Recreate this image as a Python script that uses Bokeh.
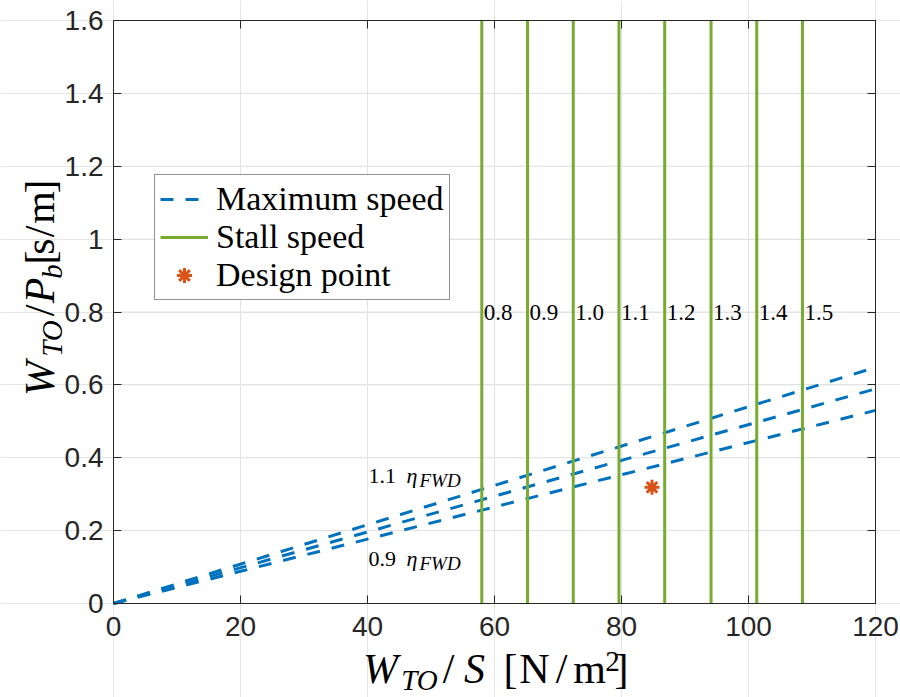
import math
from bokeh.plotting import figure
from bokeh.models import (Range1d, LinearAxis, Legend, LegendItem, FixedTicker,
                          ColumnDataSource)
from bokeh.embed import file_html
from bokeh.resources import INLINE
from bokeh.core.properties import value

# ---------------- data ----------------
x_limits = [0, 120]
y_limits = [0, 1.6]
x_ticks = [0, 20, 40, 60, 80, 100, 120]
y_ticks = [0, 0.2, 0.4, 0.6, 0.8, 1.0, 1.2, 1.4, 1.6]
y_tick_labels = ["0", "0.2", "0.4", "0.6", "0.8", "1", "1.2", "1.4", "1.6"]

# maximum speed lines (eta factor 1.1, 1.0, 0.9): W/P at W/S = 0 and 120
eta_factors = [1.1, 1.0, 0.9]
max_speed_ws = [0, 120]
max_speed_wp_start = [0.0, 0.0, 0.0]
max_speed_wp_end = [0.648, 0.589, 0.530]

# stall speed lines
stall_cl_labels = ["0.8", "0.9", "1.0", "1.1", "1.2", "1.3", "1.4", "1.5"]
stall_ws = [58.0, 65.2, 72.4, 79.6, 86.8, 94.1, 101.3, 108.5]
stall_label_y = 0.8

# design point
design_ws = [84.8]
design_wp = [0.319]

BLUE = "#0072BD"
GREEN = "#77AC30"
ORANGE = "#D95319"
DARK = "#262626"
GRID = "#e3e3e3"
SERIF = "Liberation Serif"
SANS = "Liberation Sans"

# ---------------- geometry (pixel box of the axes inside the page) ----------------
W, H = 900, 697
FL, FR, FT, FB = 113, 875, 20, 603
sx = (FR - FL) / (x_limits[1] - x_limits[0])
sy = (FB - FT) / (y_limits[1] - y_limits[0])
x_range = Range1d(x_limits[0] - FL / sx, x_limits[1] + (W - FR) / sx)
y_range = Range1d(y_limits[0] - (H - FB) / sy, y_limits[1] + FT / sy)

p = figure(width=W, height=H, output_backend="svg", toolbar_location=None,
           x_range=x_range, y_range=y_range,
           x_axis_location=None, y_axis_location=None, min_border=0)
p.background_fill_color = "white"
p.border_fill_color = "white"
p.outline_line_color = None


def make_axis(ticks, loc, fixed, bounds, labels=True, overrides=None):
    ax = LinearAxis(ticker=FixedTicker(ticks=ticks), fixed_location=fixed, bounds=tuple(bounds))
    ax.axis_line_color = DARK
    ax.axis_line_width = 1
    ax.major_tick_line_color = DARK
    ax.major_tick_in = 8
    ax.major_tick_out = 0
    ax.minor_tick_line_color = None
    if labels:
        ax.major_label_text_font = SANS
        ax.major_label_text_font_size = "28px"
        ax.major_label_text_color = DARK
        ax.major_label_standoff = 13 if loc == "below" else 10
        if overrides:
            ax.major_label_overrides = overrides
    else:
        ax.major_label_text_font_size = "0px"
        ax.major_label_text_alpha = 0
        ax.major_label_standoff = 0
    p.add_layout(ax, loc)
    return ax


# grid lines at the tick positions, limited to the axes box
p.multi_line([[t, t] for t in x_ticks], [list(y_limits) for _ in x_ticks],
             line_color=GRID, line_width=1)
p.multi_line([list(x_limits) for _ in y_ticks], [[t, t] for t in y_ticks],
             line_color=GRID, line_width=1)

make_axis(x_ticks, "below", y_limits[0], x_limits)
make_axis(y_ticks, "left", x_limits[0], y_limits,
          overrides={t: l for t, l in zip(y_ticks, y_tick_labels)})
make_axis(x_ticks, "above", y_limits[1], x_limits, labels=False)
make_axis(y_ticks, "right", x_limits[1], y_limits, labels=False)

# ---------------- glyphs ----------------
dash_renderers = []
for ys, ye in zip(max_speed_wp_start, max_speed_wp_end):
    r = p.line(max_speed_ws, [ys, ye], line_color=BLUE, line_width=3, line_dash="13 12")
    dash_renderers.append(r)

stall_src = ColumnDataSource(dict(
    xs=[[x, x] for x in stall_ws],
    ys=[list(y_limits) for _ in stall_ws]))
r_stall = p.multi_line("xs", "ys", source=stall_src, line_color=GREEN, line_width=3)

p.text(x=stall_ws, y=[stall_label_y] * len(stall_ws), text=stall_cl_labels,
       x_offset=2, text_baseline="middle", text_align="left",
       text_font=value(SERIF), text_font_size="23px", text_color="black")

r_design = p.scatter(design_ws, design_wp, marker="asterisk", size=15,
                     line_color=ORANGE, line_width=3)

# ---------------- legend ----------------
legend = Legend(items=[
    LegendItem(label="Maximum speed", renderers=[dash_renderers[0]]),
    LegendItem(label="Stall speed", renderers=[r_stall]),
    LegendItem(label="Design point", renderers=[r_design]),
], location=(154, H - 300))
legend.label_text_font = SERIF
legend.label_text_font_size = "34px"
legend.label_text_color = "black"
legend.glyph_width = 48
legend.glyph_height = 38
legend.label_height = 38
legend.label_standoff = 8
legend.spacing = 0
legend.padding = 5
legend.margin = 0
legend.border_line_color = DARK
legend.border_line_width = 1
legend.background_fill_alpha = 1
p.add_layout(legend)

# ---------------- math-like labels composed from pieces ----------------
MID = 0.31  # distance from alphabetic baseline to the "middle" anchor, in em


def dx(px):
    return x_range.start + px / W * (x_range.end - x_range.start)


def dy(py):
    return y_range.end - py / H * (y_range.end - y_range.start)


def hpiece(text, cx, base, size, italic=False, align="center"):
    """horizontal piece, centred at cx, alphabetic baseline at screen y=base"""
    p.text(x=[dx(cx)], y=[dy(base - MID * size)], text=[text], text_font=value(SERIF),
           text_font_size=f"{size}px", text_font_style="italic" if italic else "normal",
           text_color="black", text_align=align, text_baseline="middle")


def vpiece(text, cy, base, size, italic=False):
    """piece rotated to read upwards, centred at cy, baseline at screen x=base"""
    p.text(x=[dx(base - MID * size)], y=[dy(cy)], text=[text], text_font=value(SERIF),
           text_font_size=f"{size}px", text_font_style="italic" if italic else "normal",
           text_color="black", text_align="center", text_baseline="middle",
           angle=math.pi / 2)


BIG, SUB = 42, 29
# x-axis label: W_TO/S [N/m^2]
xb = 682
for t, cx, b, s, it in [("W", 380, xb, BIG, True), ("TO", 419, xb + 6, SUB, True),
                        ("/", 448, xb, BIG, False), ("S", 474, xb, BIG, True),
                        ("[", 510, xb, BIG, False), ("N", 534, xb, BIG, False),
                        ("/", 561, xb, BIG, False), ("m", 589, xb, BIG, False),
                        ("2", 612, xb - 12, SUB, False), ("]", 621, xb, BIG, False)]:
    hpiece(t, cx, b, s, it)

# y-axis label: W_TO/P_b [s/m]  (rotated, reading upwards)
yb = 53
for t, cy, b, s, it in [("W", 378, yb, BIG, True), ("TO", 338, yb + 7, SUB, True),
                        ("/", 310, yb, BIG, False), ("P", 290, yb, BIG, True),
                        ("b", 271, yb + 7, SUB, True), ("[", 257, yb, BIG, False),
                        ("s", 246, yb, BIG, False), ("/", 231, yb, BIG, False),
                        ("m", 207, yb, BIG, False), ("]", 186, yb, BIG, False)]:
    vpiece(t, cy, b, s, it)

# eta labels
for num, base in [("1.1", 482), ("0.9", 565)]:
    hpiece(num, 368, base, 22, align="left")
    hpiece("η", 406, base, 22, italic=True, align="left")
    hpiece("FWD", 419, base + 4, 19, italic=True, align="left")

open("out.html", "w").write(file_html(p, INLINE))
